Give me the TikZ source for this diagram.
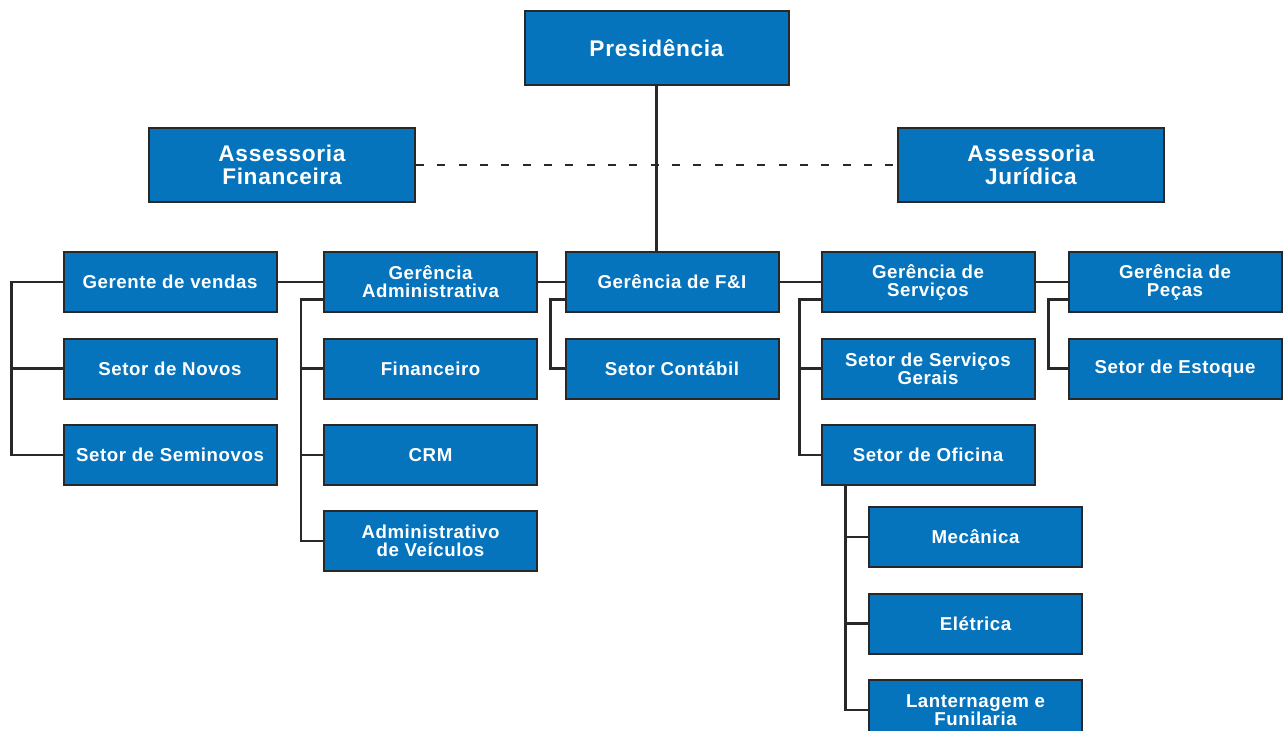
\documentclass[tikz,border=0pt]{standalone}
\usepackage{fontspec}
\setmainfont{Liberation Sans}[LetterSpace=3]
\usepackage{tikz}

\definecolor{boxblue}{RGB}{5,116,189}
\definecolor{boxline}{RGB}{40,40,40}

\begin{document}
\begin{tikzpicture}[x=0.75pt,y=-0.75pt,
  box/.style={draw=boxline,line width=1.5pt,fill=boxblue,text=white,
    font=\bfseries\fontsize{14}{13.5}\selectfont,align=center,
    minimum width=159.75pt,minimum height=45pt,inner sep=0pt},
  bigbox/.style={box,font=\bfseries\fontsize{17}{17.5}\selectfont,
    minimum width=198pt,minimum height=56pt},
  link/.style={draw=boxline,line width=1.8pt},
  backbone/.style={draw=boxline,line width=1.3pt}]
\path[use as bounding box] (0,0) rectangle (1288,731);
\clip (0,0) rectangle (1288,731);

% topo
\node[bigbox] (pres) at (656.5,48) {Presidência};
\node[bigbox,minimum width=199.5pt] (af) at (282,165) {Assessoria\\Financeira};
\node[bigbox,minimum width=199.5pt] (aj) at (1031,165) {Assessoria\\Jurídica};

% gerencias
\node[box] (gv) at (170,282) {Gerente de vendas};
\node[box] (ga) at (430.5,282) {Gerência\\Administrativa};
\node[box] (fi) at (672,282) {Gerência de F\&I};
\node[box] (gs) at (928,282) {Gerência de\\Serviços};
\node[box] (gp) at (1175,282) {Gerência de\\Peças};

% setores
\node[box] (sn) at (170,368.5) {Setor de Novos};
\node[box] (ss) at (170,455) {Setor de Seminovos};
\node[box] (fin) at (430.5,368.5) {Financeiro};
\node[box] (crm) at (430.5,455) {CRM};
\node[box] (av) at (430.5,541) {Administrativo\\de Veículos};
\node[box] (sc) at (672,368.5) {Setor Contábil};
\node[box] (sg) at (928,368.5) {Setor de Serviços\\Gerais};
\node[box] (so) at (928,455) {Setor de Oficina};
\node[box] (se) at (1175,368.5) {Setor de Estoque};

% oficina
\node[box] (me) at (975.5,537) {Mecânica};
\node[box] (el) at (975.5,623.5) {Elétrica};
\node[box] (lf) at (975.5,710) {Lanternagem e\\Funilaria};

% ligacoes
\draw[link] (pres.south) -- (pres.south |- fi.north);
\draw[boxline,line width=1.8pt,dash pattern=on 6pt off 10pt] (af.east) -- (aj.west);
\draw[backbone] (gv.east) -- (ga.west) (ga.east) -- (fi.west)
  (fi.east) -- (gs.west) (gs.east) -- (gp.west);

\draw[link] (gv.west) -- ++(-51,0) |- (ss.west);
\draw[link] (sn.west) -- ++(-51,0);

\draw[link] ([yshift=-13pt]ga.west) -- ++(-22,0) |- (av.west);
\foreach \n in {fin,crm}
  \draw[link] (\n.west) -- ++(-22,0);

\draw[link] ([yshift=-13pt]fi.west) -- ++(-14,0) |- (sc.west);

\draw[link] ([yshift=-13pt]gs.west) -- ++(-21,0) |- (so.west);
\draw[link] (sg.west) -- ++(-21,0);

\draw[link] ([yshift=-13pt]gp.west) -- ++(-19,0) |- (se.west);

\draw[link] (so.south west) ++(25,0) |- (lf.west);
\foreach \n in {me,el}
  \draw[link] (\n.west) -- ++(-22,0);
\end{tikzpicture}
\end{document}
